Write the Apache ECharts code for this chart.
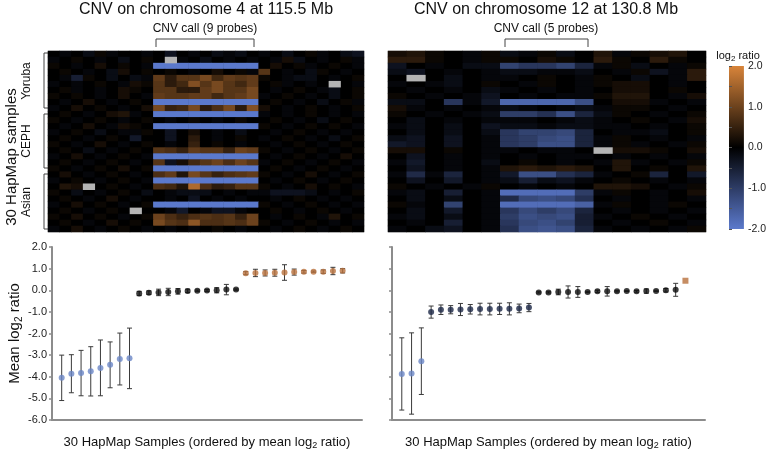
<!DOCTYPE html>
<html>
<head>
<meta charset="utf-8">
<script src="https://cdn.jsdelivr.net/npm/echarts@6/dist/echarts.min.js"></script>
<style>
  html, body { margin: 0; padding: 0; background: #fff; }
  #main { width: 769px; height: 451px; }
</style>
</head>
<body>
<div id="main"></div>
<script>
// heatmap cells, one string per sample row; '0' = 0, A..T = +0.1..+2.0, a..t = -0.1..-2.0, x = no data
const chr4Rows = [
  '0a0bAa00a0c0a0bab0a0b0Aa0bc',
  'a0A0a0b0A0xa0b0a0a0aBb0a0Aa',
  'A0a0B0A0attttttttt0B0Aa0A0a',
  '0A0a0bB0A0A0a0B0AaH0a0bA0a0',
  '0aeA0b0baIDHHKFIHIA0abb0a0A',
  'a0a0A0aBAHDFLHKHFI0Aa0a0x0a',
  '0Aa0a0BA0HHDDIKHHK0a0A0ab0A',
  'A0A0a0B0aIHHIIFHIKa0A0a0b0A',
  '0a0B0a0A0ttttttttt0A0a0b0Aa',
  'a0B0A0a0BKEFKDGKDLB0a0A0a0A',
  '0A0a0BCa0ttttttttta0a0A0a0a',
  'A0a0A0a0A0a0A0a0A00A0a0b0A0',
  '0a0B0aBA0tttttttttA0a0A0A0a',
  'a0A0b0aaA0c0B0a0b00a0A0a0a0',
  '0A0a0A0d00c0D0a0A0a0A0a0b0A',
  'A0a0B0a0A0a0E0A0a00a0A0a0A0',
  '0A0b0a0A0HGEIHHEJIA0a0A0a0A',
  'a0B0a0A0attttttttt0a0A0a0B0',
  '0A0a0A0a0HcBFHJGJHa0A0a0A0a',
  'A0a0A0B0Attttttttt0A0a0A0a0',
  '0B0a0A0a0GICKHEGHIA0a0B0a0A',
  'a0A0a0A0attttttttt0a0A0a0A0',
  '0CBx0A0a0GFCPGDEHHA0a0B0A0a',
  'A0b0a0A0b0abbb0a0aacccb0a0A',
  '0A0a0B0a00a0c0a0a00a0A0a0a0',
  'a0B0A0a0AtttttttttA0a0A0a0a',
  '0A0a0A0x00ad0acca00A0a0A0a0',
  'A0B0A0a0AJGEGHGHEJ0a0A0aC0A',
  '0A0a0B0A0KHGMGGHGJA0a0A0a0a',
  'a0B0a0A0a0a0a0A0a00a0A0a0A0'
];
const chr12Rows = [
  'BCA0aAbaAb0CaABC0',
  'DDA0aAA0BA0DA0DA0',
  'c0a0bbkiikfaAb0aA',
  'bc0a0abbaab0aAcaD',
  '0x0b0aa0A0aA0b0aD',
  'a0ab0A0aA0aABB0a0',
  '0a0a0ba0a0a0BB0A0',
  'A0a0ac0a0aaACC0aB',
  'bb0iadqqqqm0BBa0a',
  'Ba0a0aba0abaAA0a0',
  'A0a0abjjhmfbA0a0A',
  '0b0a0aaa0aba0A0aB',
  'ab0b0cbbabbaa0a0A',
  '0b0b0bikklf0aab0A',
  'bc0c0aijlmfaA0a0a',
  'dc0c0aijmmfaAa0aA',
  'BB0A0aa0aa0xBBA0B',
  '0c0a0a0a0aa0a0a0a',
  'ad0a0b0A0a0aCa0aA',
  '0c0a0aCDCDC0C0A0C',
  'agaf0admmhfa0Af0d',
  '0c0d0abebca0A0a0a',
  'A0a0aA0a0a0CCB0aA',
  'ab0e0arrrrjaA0a0B',
  '0b0b0aglmlh0a0a0a',
  'Aa0k0arrrrpaA0aA0',
  '0b0d0ailjlf0a0a0a',
  'ab0b0ajmlmea0A0a0',
  '0a0e0ailmke0a0A0a',
  'a0bc0ahmnmfa0a0aA'
];

// mean log2 ratio and standard deviation per sample, ranked low to high
const chr4LossMean = [-4.05, -3.86, -3.83, -3.75, -3.59, -3.45, -3.18, -3.15];
const chr4LossErr = [1.05, 0.88, 1.05, 1.14, 1.29, 1.06, 1.2, 1.4];
const chr4NormMean = [-0.15, -0.11, -0.1, -0.08, -0.05, -0.03, -0.02, -0.01, 0.0, 0.03, 0.03];
const chr4NormErr = [0.1, 0.08, 0.15, 0.17, 0.13, 0.08, 0.03, 0.04, 0.12, 0.24, 0.03];
const chr4GainMean = [0.79, 0.8, 0.8, 0.81, 0.82, 0.84, 0.85, 0.86, 0.86, 0.89, 0.9];
const chr4GainErr = [0.07, 0.17, 0.14, 0.16, 0.36, 0.14, 0.06, 0.03, 0.08, 0.17, 0.1];

const chr12LossMean = [-3.87, -3.85, -3.28];
const chr12LossErr = [1.67, 1.88, 1.54];
const chr12HalfMean = [-1.01, -0.9, -0.9, -0.89, -0.88, -0.87, -0.87, -0.86, -0.86, -0.84, -0.8];
const chr12HalfErr = [0.28, 0.22, 0.19, 0.28, 0.22, 0.27, 0.27, 0.26, 0.28, 0.2, 0.19];
const chr12NormMean = [-0.1, -0.1, -0.08, -0.08, -0.08, -0.08, -0.05, -0.05, -0.05, -0.04, -0.05, -0.04, -0.03, 0.0, 0.02];
const chr12NormErr = [0.03, 0.03, 0.13, 0.28, 0.25, 0.03, 0.05, 0.22, 0.03, 0.02, 0.04, 0.1, 0.03, 0.08, 0.3];
const chr12GainMean = [0.44];
const chr12GainErr = [0];

const colorTicks = [-2, -1, 0, 1, 2];

const FONT = 'Liberation Sans, Arial, sans-serif';
const BLUE = '#5b79cc';
const ORANGE = '#d8843a';
const AXIS = '#8c8c8c';

function cellValue(ch) {
  if (ch === 'x') return null;
  if (ch === '0') return 0;
  const code = ch.charCodeAt(0);
  if (code >= 65 && code <= 90) return +((code - 64) * 0.1).toFixed(1);
  return -((code - 96) * 0.1).toFixed(1);
}

function cells(rows) {
  const ok = [], missing = [];
  rows.forEach((row, r) => {
    row.split('').forEach((ch, c) => {
      const v = cellValue(ch);
      if (v === null) missing.push([c, r, 0]);
      else ok.push([c, r, v]);
    });
  });
  return { ok, missing };
}

const chr4Cells = cells(chr4Rows);
const chr12Cells = cells(chr12Rows);

// give each sample its rank on the x axis
function rankGroups(groups) {
  let rank = 1;
  return groups.map(g => g.mean.map((m, i) => [rank++, m, g.err[i]]));
}
const chr4Pts = rankGroups([
  { mean: chr4LossMean, err: chr4LossErr },
  { mean: chr4NormMean, err: chr4NormErr },
  { mean: chr4GainMean, err: chr4GainErr }
]);
const chr12Pts = rankGroups([
  { mean: chr12LossMean, err: chr12LossErr },
  { mean: chr12HalfMean, err: chr12HalfErr },
  { mean: chr12NormMean, err: chr12NormErr },
  { mean: chr12GainMean, err: chr12GainErr }
]);

function errorBars(params, api) {
  const x = api.value(0), m = api.value(1), e = api.value(2);
  if (!e) return null;
  const top = api.coord([x, m + e]);
  const bot = api.coord([x, m - e]);
  const hw = 2.5;
  const st = { stroke: '#3a3a3a', lineWidth: 1 };
  return {
    type: 'group',
    children: [
      { type: 'line', shape: { x1: top[0], y1: top[1], x2: bot[0], y2: bot[1] }, style: st },
      { type: 'line', shape: { x1: top[0] - hw, y1: top[1], x2: top[0] + hw, y2: top[1] }, style: st },
      { type: 'line', shape: { x1: bot[0] - hw, y1: bot[1], x2: bot[0] + hw, y2: bot[1] }, style: st }
    ]
  };
}

const colIdx = n => Array.from({ length: n }, (_, i) => String(i));
const rowIdx = colIdx(30);

const hiddenCat = (n, grid) => ({ type: 'category', gridIndex: grid, data: colIdx(n), show: false });
const hiddenRows = grid => ({ type: 'category', gridIndex: grid, data: rowIdx, inverse: true, show: false });

const plotX = grid => ({
  type: 'value', gridIndex: grid, min: 0, max: 32,
  axisLine: { show: true, onZero: false, lineStyle: { color: AXIS, width: 2 } },
  axisTick: { show: false }, axisLabel: { show: false }, splitLine: { show: false },
  name: '30 HapMap Samples (ordered by mean log{s|2} ratio)',
  nameLocation: 'middle', nameGap: 14,
  nameTextStyle: {
    fontFamily: FONT, fontSize: 13, color: '#111',
    rich: { s: { fontFamily: FONT, fontSize: 9, color: '#111', padding: [7, 0, 0, 0] } }
  }
});
const plotY = (grid, labels) => ({
  type: 'value', gridIndex: grid, min: -6, max: 2, interval: 1,
  axisLine: { show: true, lineStyle: { color: AXIS, width: 2 } },
  axisTick: { show: true, length: 3, lineStyle: { color: AXIS, width: 1.5 } },
  axisLabel: { show: labels, fontFamily: FONT, fontSize: 11, color: '#222', margin: 5, formatter: v => v.toFixed(1) },
  splitLine: { show: false }
});

const heat = (grid, data) => ({
  type: 'heatmap', xAxisIndex: grid, yAxisIndex: grid, data,
  itemStyle: { borderWidth: 0 }, emphasis: { disabled: true }, progressive: 0
});
const gap = (grid, data) => ({
  type: 'heatmap', xAxisIndex: grid, yAxisIndex: grid, data,
  itemStyle: { color: '#b4b4b4', borderWidth: 0 }, emphasis: { disabled: true }
});
const dots = (grid, data, color, symbol) => ({
  type: 'scatter', xAxisIndex: grid, yAxisIndex: grid, data,
  symbol: symbol || 'circle', symbolSize: 6, itemStyle: { color }, z: 5
});
const bars = (grid, data) => ({
  type: 'custom', xAxisIndex: grid, yAxisIndex: grid, data,
  renderItem: errorBars, encode: { x: 0, y: 1 }, z: 3
});

const txt = (x, y, text, size, rot, extra) => ({
  type: 'text', x, y, rotation: rot || 0,
  style: Object.assign({ text, font: size + 'px ' + FONT, fill: '#111', align: 'center', verticalAlign: 'middle' }, extra || {})
});
const bracketStyle = { stroke: '#444', lineWidth: 1, fill: null };
const poly = pts => ({ type: 'polyline', shape: { points: pts }, style: bracketStyle });

const chart = echarts.init(document.getElementById('main'));
chart.setOption({
  animation: false,
  backgroundColor: '#fff',
  grid: [
    { left: 48, top: 51, width: 316, height: 181, show: true, borderColor: '#d8d8d8', borderWidth: 1, backgroundColor: '#080808' },
    { left: 388, top: 51, width: 318, height: 181, show: true, borderColor: '#d8d8d8', borderWidth: 1, backgroundColor: '#080808' },
    {
      left: 729, top: 66, width: 15, height: 163, show: true, borderWidth: 0,
      backgroundColor: new echarts.graphic.LinearGradient(0, 0, 0, 1, [
        { offset: 0, color: ORANGE }, { offset: 0.5, color: '#000' }, { offset: 1, color: BLUE }
      ])
    },
    { left: 52, top: 247, width: 310, height: 177 },
    { left: 392, top: 247, width: 313, height: 177 }
  ],
  xAxis: [
    hiddenCat(27, 0),
    hiddenCat(17, 1),
    { type: 'value', gridIndex: 2, show: false, min: 0, max: 1 },
    plotX(3),
    plotX(4)
  ],
  yAxis: [
    hiddenRows(0),
    hiddenRows(1),
    {
      type: 'value', gridIndex: 2, min: -2, max: 2, interval: 0.5, position: 'right',
      axisLine: { show: false },
      axisTick: { show: true, length: 3, lineStyle: { color: '#555' } },
      axisLabel: {
        fontFamily: FONT, fontSize: 10.5, color: '#222', margin: 4,
        formatter: v => (colorTicks.indexOf(v) >= 0 ? v.toFixed(1) : '')
      },
      splitLine: { show: false }
    },
    Object.assign(plotY(3, true), {
      name: 'Mean log{s|2} ratio', nameLocation: 'middle', nameGap: 28,
      nameTextStyle: {
        fontFamily: FONT, fontSize: 15, color: '#111',
        rich: { s: { fontFamily: FONT, fontSize: 10, color: '#111', padding: [8, 0, 0, 0] } }
      }
    }),
    plotY(4, false)
  ],
  visualMap: {
    type: 'continuous', show: false, min: -2, max: 2, seriesIndex: [0, 2],
    inRange: { color: [BLUE, '#000000', ORANGE] }
  },
  series: [
    heat(0, chr4Cells.ok),
    gap(0, chr4Cells.missing),
    heat(1, chr12Cells.ok),
    gap(1, chr12Cells.missing),
    bars(3, [].concat(...chr4Pts)),
    dots(3, chr4Pts[0], '#6a86c6'),
    dots(3, chr4Pts[1], '#0d0d0d'),
    dots(3, chr4Pts[2], '#b8703c'),
    bars(4, [].concat(...chr12Pts)),
    dots(4, chr12Pts[0], '#6a86c6'),
    dots(4, chr12Pts[1], '#1c2746'),
    dots(4, chr12Pts[2], '#0d0d0d'),
    dots(4, chr12Pts[3], '#b8703c', 'rect')
  ],
  graphic: [
    txt(206, 10, 'CNV on chromosome 4 at 115.5 Mb', 16),
    txt(546, 10, 'CNV on chromosome 12 at 130.8 Mb', 16),
    txt(205, 29, 'CNV call (9 probes)', 12),
    txt(546, 29, 'CNV call (5 probes)', 12),
    poly([[156, 47], [156, 39], [254, 39], [254, 47]]),
    poly([[505, 47], [505, 39], [588, 39], [588, 47]]),
    poly([[52, 53], [44, 53], [44, 108], [52, 108]]),
    poly([[52, 114], [44, 114], [44, 168], [52, 168]]),
    poly([[52, 174], [44, 174], [44, 229], [52, 229]]),
    txt(27, 81, 'Yoruba', 12, Math.PI / 2),
    txt(27, 141, 'CEPH', 12, Math.PI / 2),
    txt(27, 202, 'Asian', 12, Math.PI / 2),
    txt(12, 157, '30 HapMap samples', 15, Math.PI / 2),
    {
      type: 'text', x: 738, y: 56,
      style: {
        text: 'log{s|2} ratio', font: '11px ' + FONT, fill: '#111', align: 'center', verticalAlign: 'middle',
        rich: { s: { font: '8px ' + FONT, fill: '#111', padding: [6, 0, 0, 0] } }
      }
    }
  ]
});
</script>
</body>
</html>
